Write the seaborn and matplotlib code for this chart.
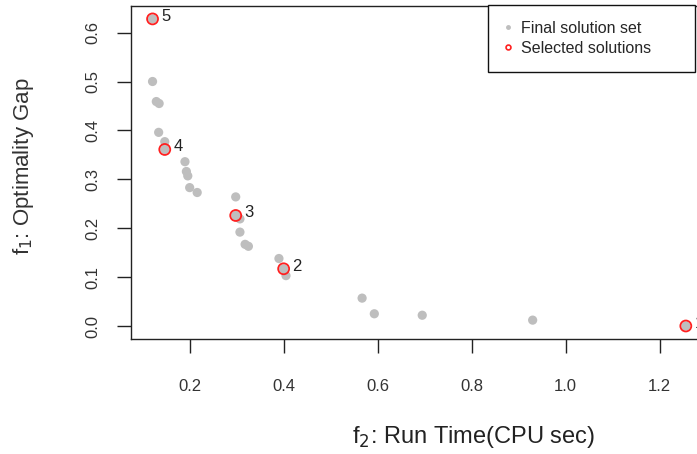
import matplotlib
matplotlib.use("Agg")
import matplotlib.pyplot as plt
import seaborn as sns
import pandas as pd
from matplotlib.lines import Line2D

# Final solution set
run_time = [0.121, 0.121, 0.129, 0.135, 0.134, 0.147, 0.147, 0.190, 0.193, 0.196,
            0.200, 0.216, 0.298, 0.298, 0.307, 0.307, 0.318, 0.325, 0.390, 0.400,
            0.405, 0.567, 0.593, 0.695, 0.930, 1.256]
opt_gap = [0.628, 0.500, 0.459, 0.455, 0.396, 0.377, 0.361, 0.336, 0.316, 0.307,
           0.283, 0.273, 0.264, 0.226, 0.219, 0.192, 0.167, 0.163, 0.138, 0.117,
           0.103, 0.057, 0.025, 0.022, 0.012, 0.000]

# Selected solutions
sel_labels = ["1", "2", "3", "4", "5"]
sel_time = [1.256, 0.400, 0.298, 0.147, 0.121]
sel_gap = [0.000, 0.117, 0.226, 0.361, 0.628]

x_ticks = [0.2, 0.4, 0.6, 0.8, 1.0, 1.2]
y_ticks = [0.0, 0.1, 0.2, 0.3, 0.4, 0.5, 0.6]

sns.set_style("white")
plt.rcParams['font.family'] = ['Liberation Sans', 'DejaVu Sans']

W, H = 697, 454
fig = plt.figure(figsize=(W / 100, H / 100), dpi=100)
L, R, T, B = 130.7, 704.0, 5.5, 339.0
ax = fig.add_axes([L / W, 1 - B / H, (R - L) / W, (B - T) / H])

df_all = pd.DataFrame({"t": run_time, "g": opt_gap})
df_sel = pd.DataFrame({"t": sel_time, "g": sel_gap, "lab": sel_labels})

sns.scatterplot(data=df_all, x="t", y="g", ax=ax, color="#bebebe", s=44,
                edgecolor="none", legend=False, zorder=2)
sns.scatterplot(data=df_sel, x="t", y="g", ax=ax, facecolor="none",
                edgecolor="#ff2020", linewidth=1.3, s=62, legend=False, zorder=3)

for _, r in df_sel.iterrows():
    ax.annotate(r["lab"], (r["t"], r["g"]), xytext=(9.5, 2),
                textcoords="offset points", ha="center", va="center",
                fontsize=12, color="#222222", annotation_clip=False)

ax.set_xlim(0.0745, 0.2 + (R - 189.5) / 470)
ax.set_ylim((326 - B) / 489, (326 - T) / 489)
ax.set_xticks(x_ticks)
ax.set_xticklabels([f"{v:.1f}" for v in x_ticks])
ax.set_yticks(y_ticks)
ax.set_yticklabels([f"{v:.1f}" for v in y_ticks])

for sp in ax.spines.values():
    sp.set_visible(True)
    sp.set_color("#222222")
    sp.set_linewidth(1.0)

ax.tick_params(axis="both", direction="out", length=10, width=1.0,
               color="#222222", labelsize=12, labelcolor="#333333")
ax.tick_params(axis="x", pad=19, bottom=True)
ax.tick_params(axis="y", pad=12, left=True)
plt.setp(ax.get_yticklabels(), rotation=90, va="center")

ax.set_xlabel("f$_2$: Run Time(CPU sec)", fontsize=17, color="#222222")
ax.xaxis.set_label_coords((474 - L) / (R - L), (B - 437) / (B - T))
ax.set_ylabel("f$_1$: Optimality Gap", fontsize=16, color="#333333")
ax.yaxis.set_label_coords((24 - L) / (R - L), (B - 166) / (B - T))
ax.xaxis.label.set_va("center")
ax.yaxis.label.set_va("center")

handles = [
    Line2D([], [], linestyle="none", marker="o", markersize=2.5,
           color="#bebebe", markeredgecolor="#bebebe"),
    Line2D([], [], linestyle="none", marker="o", markersize=3.5,
           markerfacecolor="none", markeredgecolor="#ff2020", markeredgewidth=1.2),
]
leg = fig.legend(handles, ["Final solution set", "Selected solutions"],
                 loc="upper left",
                 bbox_to_anchor=(488 / W, 1 - 68 / H, 207 / W, 63 / H),
                 mode="expand",
                 bbox_transform=fig.transFigure, fontsize=11.5, frameon=True,
                 fancybox=False, edgecolor="#111111", framealpha=1,
                 borderpad=1.0, handletextpad=0.55, handlelength=0.5,
                 labelspacing=0.3, borderaxespad=0)
leg.get_frame().set_linewidth(1.0)

fig.savefig("out.png", dpi=100)
